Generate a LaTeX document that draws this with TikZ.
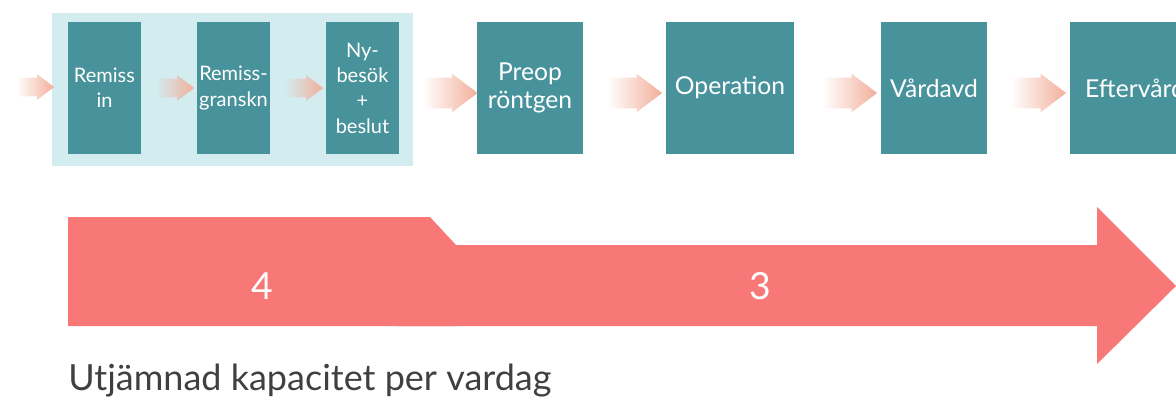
\documentclass[tikz,border=0pt]{standalone}
\usepackage{fontspec}
\setmainfont{Lato}
\usetikzlibrary{shapes.arrows,calc}

\definecolor{stepteal}{HTML}{48939B}
\definecolor{panelblue}{HTML}{D3ECEF}
\definecolor{flowpink}{HTML}{F2AF9B}
\definecolor{caparrow}{HTML}{F87878}
\definecolor{captext}{HTML}{404040}

\tikzset{
  stage/.style={fill=stepteal, text=white, inner sep=0pt, align=center, minimum height=132*0.75pt},
  smallstage/.style={stage, minimum width=73*0.75pt, font=\fontsize{15}{19}\selectfont},
  bigstage/.style={stage, minimum width=#1*0.75pt, font=\fontsize{18.5}{20.5}\selectfont},
  flow/.style={single arrow, inner xsep=0pt, single arrow tip angle=74,
    left color=#1, middle color=flowpink!80!#1, right color=flowpink},
  smallflow/.style={flow=#1, minimum height=38*0.75pt, inner ysep=9*0.75pt,
    single arrow head extend=3.5*0.75pt},
  bigflow/.style={flow=#1, minimum height=55*0.75pt, inner ysep=15*0.75pt,
    single arrow head extend=4*0.75pt, yshift=-5*0.75pt},
}

\begin{document}
\begin{tikzpicture}[x=0.75pt, y=-0.75pt, line join=round]
  \useasboundingbox (0,0) rectangle (1176,401);

  % process steps
  \fill[panelblue] (52,13) rectangle (413,166);
  \node[smallstage] (rin)  at (104.5,88) {Remiss\\in};
  \node[smallstage] (rgr)  at (233.5,88) {Remiss-\\granskn};
  \node[smallstage] (nyb)  at (362.5,88) {Ny-\\besök\\+\\beslut};
  \node[bigstage=106] (pre) at (530,88) {Preop\\röntgen};
  \node[bigstage=128] (op)  at (730,88) {Operation};
  \node[bigstage=106] (vrd) at (934,88) {Vårdavd};
  \node[bigstage=130] (eft) at (1135,88) {Eftervård};

  % flow arrows between the steps
  \node[smallflow=white] (f0) at (29,87) {};
  \node[smallflow=panelblue] (f1) at ($(rin.east)!0.5!(rgr.west)$) {};
  \node[smallflow=panelblue] (f2) at ($(rgr.east)!0.5!(nyb.west)$) {};
  \node[bigflow=white] (f3) at ($(nyb.east)!0.5!(pre.west)+(2,0)$) {};
  \node[bigflow=white] (f4) at ($(pre.east)!0.5!(op.west)$) {};
  \node[bigflow=white] (f5) at ($(op.east)!0.5!(vrd.west)+(2,0)$) {};
  \node[bigflow=white] (f6) at ($(vrd.east)!0.5!(eft.west)$) {};

  % capacity arrow
  \fill[caparrow] (68,217)--(430,217)--(456,245)--(456,326)--(68,326)--cycle;
  \fill[caparrow] (395,245)--(1097,245)--(1097,207)--(1176,286)--(1097,364)--(1097,326)--(395,326)--cycle;
  \node[text=white, font=\fontsize{28}{30}\selectfont] (four) at (262,286) {4};
  \node[text=white, font=\fontsize{28}{30}\selectfont] (three) at (760,286) {3};

  \node[anchor=base west, inner sep=0pt, text=captext, font=\fontsize{27}{30}\selectfont] (cap) at (68,390) {Utjämnad kapacitet per vardag};
\end{tikzpicture}
\end{document}
